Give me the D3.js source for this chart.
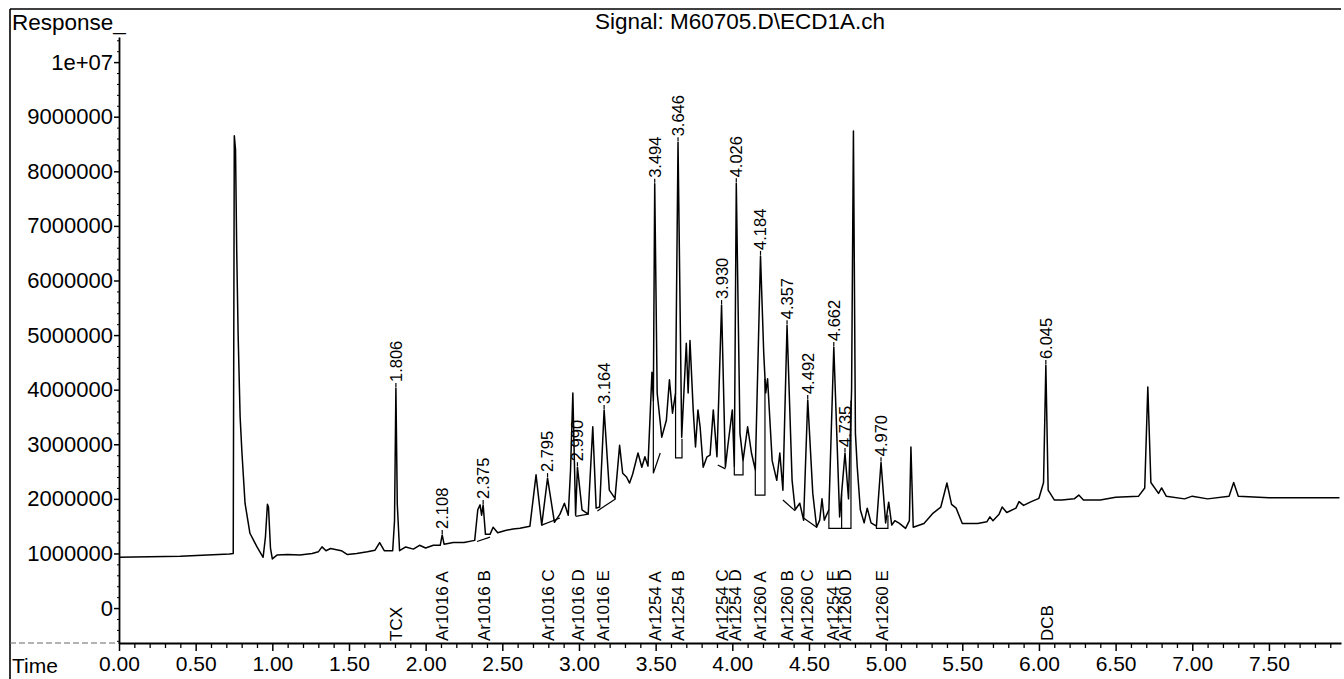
<!DOCTYPE html>
<html><head><meta charset="utf-8">
<script src="https://cdn.jsdelivr.net/npm/d3@7"></script>
<style>
body{margin:0;background:#fff}
svg{display:block}
text{font-family:"Liberation Sans",Arial,Helvetica,sans-serif;fill:#000}
</style>
</head><body>
<svg id="chart" width="1344" height="679"></svg>
<script>
// ---- data (time in minutes, response in millions) ----
const times = [0.00,0.40,0.72,0.745,0.752,0.760,0.768,0.777,0.790,0.802,0.822,0.854,0.900,0.940,0.955,0.968,0.975,0.988,1.000,1.030,1.100,1.180,1.260,1.300,1.324,1.350,1.380,1.450,1.490,1.550,1.620,1.670,1.700,1.730,1.785,1.797,1.806,1.815,1.830,1.870,1.920,1.960,2.000,2.050,2.095,2.108,2.120,2.180,2.250,2.320,2.340,2.355,2.365,2.375,2.390,2.420,2.440,2.470,2.520,2.570,2.615,2.680,2.720,2.757,2.795,2.840,2.876,2.905,2.930,2.945,2.960,2.978,2.990,3.020,3.060,3.090,3.112,3.135,3.164,3.198,3.235,3.265,3.285,3.310,3.330,3.350,3.385,3.410,3.430,3.450,3.476,3.485,3.494,3.510,3.540,3.570,3.590,3.610,3.630,3.646,3.670,3.700,3.712,3.724,3.745,3.760,3.776,3.790,3.810,3.835,3.855,3.876,3.900,3.930,3.955,3.970,4.000,4.013,4.026,4.050,4.070,4.100,4.125,4.150,4.184,4.205,4.218,4.230,4.260,4.290,4.310,4.330,4.357,4.390,4.410,4.440,4.465,4.492,4.525,4.550,4.570,4.585,4.600,4.630,4.662,4.700,4.735,4.758,4.778,4.790,4.803,4.815,4.835,4.860,4.880,4.905,4.940,4.970,5.000,5.020,5.040,5.060,5.090,5.130,5.155,5.165,5.180,5.250,5.310,5.360,5.400,5.430,5.460,5.500,5.550,5.600,5.660,5.680,5.700,5.740,5.760,5.790,5.850,5.870,5.900,5.950,6.000,6.030,6.045,6.060,6.100,6.150,6.230,6.260,6.290,6.400,6.500,6.650,6.690,6.710,6.730,6.780,6.800,6.830,6.950,7.000,7.100,7.240,7.270,7.300,7.500,7.800,7.960];
const responseM = [0.93,0.95,0.99,1.00,8.65,8.40,6.50,5.00,3.50,2.84,1.92,1.37,1.12,0.93,1.30,1.90,1.85,1.10,0.90,0.97,0.98,0.97,1.00,1.03,1.12,1.05,1.09,1.05,0.98,1.00,1.03,1.06,1.20,1.05,1.05,1.60,4.03,1.90,1.05,1.12,1.08,1.15,1.10,1.15,1.15,1.34,1.17,1.20,1.20,1.24,1.80,1.89,1.70,1.89,1.35,1.35,1.48,1.38,1.42,1.45,1.46,1.50,2.44,1.52,2.38,1.57,1.72,1.92,1.70,2.53,3.94,1.70,2.58,1.80,1.72,3.32,1.83,1.85,3.63,2.16,2.01,2.98,2.47,2.40,2.29,2.45,2.84,2.58,2.77,2.60,4.32,3.80,7.77,3.94,3.13,3.44,4.18,3.57,3.94,8.53,3.13,4.85,3.94,4.90,3.63,2.95,3.63,3.32,2.58,2.77,2.80,3.63,2.77,5.55,2.58,2.95,3.63,2.60,7.78,3.20,2.70,3.32,2.84,2.53,6.45,4.67,3.94,4.20,2.70,2.34,2.84,2.16,5.18,2.34,1.80,1.92,1.61,3.81,2.10,1.48,1.61,2.00,1.61,1.80,4.78,1.67,2.84,2.00,4.00,8.74,3.20,2.58,1.80,1.56,1.83,1.56,1.50,2.67,1.56,1.94,1.52,1.60,1.55,1.46,1.60,2.95,1.48,1.55,1.74,1.85,2.29,1.90,1.83,1.55,1.55,1.55,1.58,1.67,1.60,1.72,1.85,1.75,1.83,1.95,1.88,1.95,2.01,2.30,4.45,2.16,1.98,1.98,2.00,2.07,1.98,1.98,2.03,2.05,2.20,4.05,2.30,2.10,2.20,2.05,2.00,2.05,2.00,2.05,2.30,2.05,2.02,2.02,2.02];

// integration baselines (time, response in millions)
const baselineSegs = [
  [[2.335,1.22],[2.42,1.30]],
  [[2.757,1.52],[2.876,1.65]],
  [[2.978,1.68],[3.06,1.72]],
  [[3.12,1.78],[3.24,2.00]],
  [[3.485,3.80],[3.485,2.47],[3.53,2.84]],
  [[3.63,3.94],[3.63,2.75],[3.672,2.75],[3.672,3.10]],
  [[3.905,2.62],[3.955,2.55]],
  [[4.013,2.60],[4.013,2.44],[4.07,2.44],[4.07,2.70]],
  [[4.15,2.53],[4.15,2.07],[4.213,2.07],[4.213,4.20]],
  [[4.33,1.98],[4.41,1.78]],
  [[4.465,1.65],[4.55,1.48]],
  [[4.63,1.80],[4.63,1.46],[4.774,1.46],[4.774,3.80]],
  [[4.713,2.10],[4.713,1.46]],
  [[4.94,1.50],[4.94,1.46],[5.015,1.46],[5.015,1.70]]
];

const peakLabels = ["1.806","2.108","2.375","2.795","2.990","3.164","3.494","3.646","3.930","4.026","4.184","4.357","4.492","4.662","4.735","4.970","6.045"];
const compoundNames = ["TCX","Ar1016 A","Ar1016 B","Ar1016 C","Ar1016 D","Ar1016 E","Ar1254 A","Ar1254 B","Ar1254 C","Ar1254 D","Ar1260 A","Ar1260 B","Ar1260 C","Ar1254 E","Ar1260 D","Ar1260 E","DCB"];
const compoundTimes = [1.806,2.108,2.380,2.798,2.993,3.158,3.494,3.646,3.930,4.018,4.180,4.357,4.488,4.658,4.735,4.975,6.050];
const xTickLabels = ["0.00","0.50","1.00","1.50","2.00","2.50","3.00","3.50","4.00","4.50","5.00","5.50","6.00","6.50","7.00","7.50"];
const yTickLabels = ["0","1000000","2000000","3000000","4000000","5000000","6000000","7000000","8000000","9000000","1e+07"];

// ---- drawing ----
const svg = d3.select("#chart");
const x = d3.scaleLinear().domain([0, 7.97]).range([119, 1341]);
const y = d3.scaleLinear().domain([-0.64e6, 10.46e6]).range([643, 37]);
const M = 1e6;

// frame
svg.append("line").attr("x1",10).attr("x2",1341).attr("y1",9).attr("y2",9).attr("stroke","#000").attr("stroke-width",1.6);
svg.append("line").attr("x1",10).attr("x2",10).attr("y1",9).attr("y2",679).attr("stroke","#000").attr("stroke-width",1.6);
svg.append("line").attr("x1",10).attr("x2",119).attr("y1",643).attr("y2",643).attr("stroke","#666").attr("stroke-width",1).attr("stroke-dasharray","6,3");

// titles
svg.append("text").attr("x",12).attr("y",30).attr("font-size",22.5).text("Response_");
svg.append("text").attr("x",740).attr("y",29).attr("text-anchor","middle").attr("font-size",22.5).text("Signal: M60705.D\\ECD1A.ch");
svg.append("text").attr("x",12).attr("y",673).attr("font-size",21).text("Time");

// y axis
const yMajor = d3.range(0, 11).map(i => i * M);
const yMinor = d3.range(-3, 53).map(i => i * 0.2 * M).filter(v => Math.abs(v / M - Math.round(v / M)) > 1e-6 && v <= 10.4e6);
const yAxis = svg.append("g").attr("transform","translate(119,0)")
  .call(d3.axisLeft(y).tickValues(yMajor).tickFormat((d,i)=>yTickLabels[i]).tickSize(5).tickSizeOuter(0).tickPadding(1));
yAxis.select(".domain").attr("stroke-width",1.8);
yAxis.selectAll(".tick line").attr("stroke-width",1.5);
yAxis.selectAll("text").attr("font-size",22).attr("font-family",null);
svg.append("g").attr("transform","translate(119,0)")
  .call(d3.axisLeft(y).tickValues(yMinor).tickFormat("").tickSize(2).tickSizeOuter(0))
  .call(g => g.select(".domain").remove());

// x axis
const xMajor = d3.range(0, 16).map(i => i * 0.5);
const xMinor = d3.range(0, 80).map(i => i * 0.1).filter(v => Math.abs(v*2 - Math.round(v*2)) > 1e-6);
const xAxis = svg.append("g").attr("transform","translate(0,643)")
  .call(d3.axisBottom(x).tickValues(xMajor).tickFormat((d,i)=>xTickLabels[i]).tickSize(8).tickSizeOuter(0).tickPadding(5));
xAxis.select(".domain").attr("stroke-width",1.8);
xAxis.selectAll(".tick line").attr("stroke-width",1.5);
xAxis.selectAll("text").attr("font-size",21).attr("font-family",null);
svg.append("g").attr("transform","translate(0,643)")
  .call(d3.axisBottom(x).tickValues(xMinor).tickFormat("").tickSize(5).tickSizeOuter(0))
  .call(g => g.select(".domain").remove())
  .selectAll(".tick line").attr("stroke-width",1.3);

// trace
const pts = times.map((t,i)=>[t, responseM[i]*M]);
const line = d3.line().x(d=>x(d[0])).y(d=>y(d[1]));
svg.append("path").datum(pts).attr("d",line).attr("fill","none").attr("stroke","#000").attr("stroke-width",1.5).attr("stroke-linejoin","round");

// baselines
const lineB = d3.line().x(d=>x(d[0])).y(d=>y(d[1]*M));
svg.append("g").selectAll("path").data(baselineSegs).join("path")
  .attr("d",lineB).attr("fill","none").attr("stroke","#000").attr("stroke-width",1.2);

// peak labels
function apexAt(t){
  let best = 0;
  times.forEach((tt,i)=>{ if (Math.abs(tt - t) <= 0.012 && responseM[i] > best) best = responseM[i]; });
  return best * M;
}
const pk = svg.append("g");
peakLabels.forEach(lbl => {
  const t = +lbl;
  const px = x(t), py = y(apexAt(t));
  pk.append("line").attr("x1",px).attr("x2",px).attr("y1",py-1).attr("y2",py-5).attr("stroke","#000").attr("stroke-width",1.2);
  pk.append("text").attr("transform",`translate(${px},${py-6}) rotate(-90)`)
    .attr("dy","0.36em").attr("font-size",16.5).text(lbl);
});

// compound labels
svg.append("g").selectAll("text").data(compoundNames).join("text")
  .attr("transform",(d,i)=>`translate(${x(compoundTimes[i])},641) rotate(-90)`)
  .attr("dy","0.36em").attr("font-size",17).text(d=>d);
</script>
</body></html>
